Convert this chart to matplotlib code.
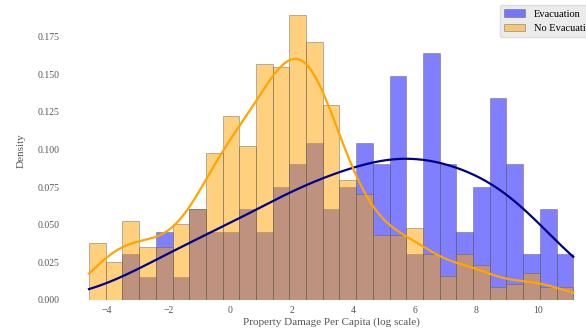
import numpy as np
import matplotlib
matplotlib.use("Agg")
import matplotlib.pyplot as plt
from matplotlib.patches import Patch

# histogram bins shared by both groups (log property damage per capita)
bin_start = -4.59
bin_width = 0.543
n_bins = 29

# density per bin, Evacuation group
evac_density = [
    0.0, 0.0, 0.0306, 0.0155, 0.0454, 0.0155, 0.0605, 0.0454, 0.0454, 0.0603,
    0.0454, 0.0749, 0.0902, 0.1046, 0.0603, 0.0749, 0.1046, 0.0902, 0.1489, 0.0304,
    0.1640, 0.0902, 0.0454, 0.0749, 0.1341, 0.0902, 0.0306, 0.0603, 0.0306,
]

# density per bin, No Evacuation group
no_evac_density = [
    0.0377, 0.0255, 0.0527, 0.0355, 0.0355, 0.0503, 0.0605, 0.0975, 0.1223, 0.1026,
    0.1569, 0.1547, 0.1893, 0.1718, 0.1297, 0.0798, 0.0703, 0.0430, 0.0430, 0.0477,
    0.0304, 0.0160, 0.0304, 0.0233, 0.0084, 0.0106, 0.0182, 0.0084, 0.0084,
]

labels = ["Evacuation", "No Evacuation"]
bar_colors = ["blue", "orange"]
line_colors = ["darkblue", "orange"]
bandwidths = [1.6, 0.76]


def binned_kde(centers, density, bw, grid):
    # gaussian kernel density built from binned densities
    mass = np.asarray(density) * bin_width
    d = (grid[:, None] - centers[None, :]) / bw
    k = np.exp(-0.5 * d ** 2) / (bw * np.sqrt(2 * np.pi))
    return (k * mass).sum(axis=1) / mass.sum()


plt.rcParams["font.family"] = ["Liberation Serif", "DejaVu Serif"]

edges = bin_start + bin_width * np.arange(n_bins + 1)
centers = edges[:-1] + bin_width / 2
grid = np.linspace(edges[0], edges[-1], 300)

fig = plt.figure(figsize=(5.86, 3.28), dpi=100)
ax = fig.add_axes([0.1106, 0.0854, 0.909, 0.9116])

for dens, bc in zip([evac_density, no_evac_density], bar_colors):
    ax.bar(edges[:-1], dens, width=bin_width, align="edge", color=bc,
           alpha=0.5, edgecolor="0.35", linewidth=0.6)

for dens, lc, bw in zip([evac_density, no_evac_density], line_colors, bandwidths):
    ax.plot(grid, binned_kde(centers, dens, bw, grid), color=lc, linewidth=1.6)

for s in ax.spines.values():
    s.set_visible(False)
ax.tick_params(length=0, labelsize=7, labelcolor="#555555", pad=4)
ax.set_xlabel("Property Damage Per Capita (log scale)", fontsize=8, color="#555555", labelpad=2)
ax.set_ylabel("Density", fontsize=8, color="#555555", labelpad=8)
ax.yaxis.set_major_formatter(matplotlib.ticker.FormatStrFormatter("%.3f"))

handles = [Patch(facecolor=c, alpha=0.5, edgecolor="0.35", linewidth=0.6) for c in bar_colors]
leg = ax.legend(handles, labels, loc="upper right", bbox_to_anchor=(1.012, 1.0),
                fontsize=7.5, frameon=True, fancybox=True, borderaxespad=0.4,
                handlelength=2.0)
leg.get_frame().set_facecolor("#ebebeb")
leg.get_frame().set_edgecolor("#dddddd")
leg.get_frame().set_alpha(1)

fig.savefig("out.png", dpi=100)
